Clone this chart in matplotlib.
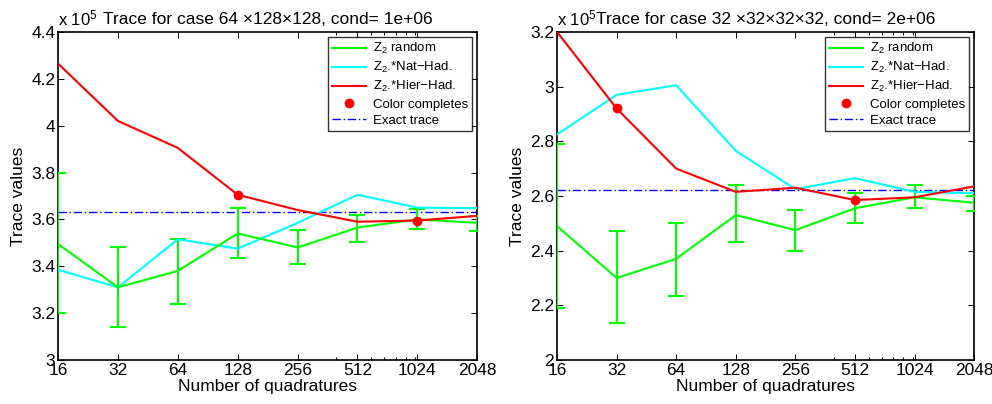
import numpy as np
import matplotlib
matplotlib.use("Agg")
from matplotlib import pyplot as plt
from matplotlib.ticker import FixedLocator, FuncFormatter, NullFormatter
from matplotlib.lines import Line2D

plt.rcParams['font.family'] = ['Liberation Sans', 'DejaVu Sans']
plt.rcParams['mathtext.fontset'] = 'custom'
plt.rcParams['mathtext.rm'] = 'Liberation Sans'
plt.rcParams['mathtext.it'] = 'Liberation Sans:italic'

# number of quadratures
quads = [16, 32, 64, 128, 256, 512, 1024, 2048]
xticklabels = ['16', '32', '64', '128', '256', '512', '1024', '2048']

# case 64 x 128 x 128 (values in units of 1e5)
a_rand = [3.495, 3.31, 3.38, 3.54, 3.48, 3.565, 3.60, 3.585]
a_rand_lo = [3.20, 3.14, 3.24, 3.435, 3.41, 3.505, 3.56, 3.55]
a_rand_hi = [3.80, 3.48, 3.515, 3.65, 3.555, 3.62, 3.645, 3.615]
a_nat = [3.385, 3.31, 3.515, 3.475, 3.585, 3.705, 3.65, 3.648]
a_hier = [4.265, 4.02, 3.905, 3.705, 3.64, 3.59, 3.595, 3.615]
a_color_q = [128, 1024]
a_color_v = [3.705, 3.595]
a_exact = 3.63

# case 32 x 32 x 32 x 32
b_rand = [2.49, 2.30, 2.37, 2.53, 2.475, 2.555, 2.595, 2.575]
b_rand_lo = [2.19, 2.135, 2.235, 2.43, 2.40, 2.50, 2.555, 2.545]
b_rand_hi = [2.79, 2.47, 2.50, 2.64, 2.55, 2.61, 2.64, 2.60]
b_nat = [2.825, 2.97, 3.005, 2.765, 2.625, 2.665, 2.615, 2.61]
b_hier = [3.2, 2.92, 2.70, 2.615, 2.63, 2.585, 2.595, 2.635]
b_color_q = [32, 512]
b_color_v = [2.92, 2.585]
b_exact = 2.622

minor_q = [400, 600, 700, 800, 900, 1000]

GREEN = (0, 1, 0)
CYAN = (0, 1, 1)
RED = (1, 0, 0)
BLUE = (0, 0, 1)


def DrawCase(ax, title, rand, lo, hi, nat, hier, cq, cv, exact, ylim, yticks):
    scale = 1e5
    rand = np.array(rand) * scale
    err = [rand - np.array(lo) * scale, np.array(hi) * scale - rand]
    ax.errorbar(quads, rand, yerr=err, color=GREEN, lw=1.5, capsize=6,
                capthick=1.5, zorder=3)
    ax.plot(quads, np.array(nat) * scale, color=CYAN, lw=1.5, zorder=3)
    ax.plot(quads, np.array(hier) * scale, color=RED, lw=1.5, zorder=4)
    ax.plot(cq, np.array(cv) * scale, 'o', color=RED, ms=6, zorder=5)
    ax.axhline(exact * scale, color=BLUE, lw=1, ls='-.',
               dashes=(6, 2, 1, 2), zorder=2)

    ax.set_xscale('log', base=2)
    ax.set_xlim(16, 2048)
    ax.xaxis.set_major_locator(FixedLocator(quads))
    ax.xaxis.set_minor_locator(FixedLocator(minor_q))
    ax.xaxis.set_minor_formatter(NullFormatter())
    ax.set_xticklabels(xticklabels)
    ax.set_ylim(ylim[0] * scale, ylim[1] * scale)
    ax.set_yticks(np.array(yticks) * scale)
    ax.yaxis.set_major_formatter(FuncFormatter(lambda v, p: '%g' % round(v / scale, 3)))
    ax.tick_params(which='both', direction='in', top=True, right=True,
                   labelsize=12.5, pad=2)
    ax.tick_params(which='major', length=4, width=0.7)
    ax.tick_params(which='minor', length=2, width=0.7)
    for s in ax.spines.values():
        s.set_linewidth(1.2)
    ax.set_xlabel('Number of quadratures', fontsize=12.5, labelpad=1)
    ax.set_ylabel('Trace values', fontsize=12.5, labelpad=4)
    ax.set_title(title, fontsize=12.5, pad=6)
    ax.text(0.0, 1.012, 'x 10$^5$', transform=ax.transAxes, fontsize=12,
            ha='left', va='bottom')

    handles = [
        Line2D([], [], color=GREEN, lw=1.5),
        Line2D([], [], color=CYAN, lw=1.5),
        Line2D([], [], color=RED, lw=1.5),
        Line2D([], [], color=RED, marker='o', ms=6, ls='none'),
        Line2D([], [], color=BLUE, lw=1, ls='-.', dashes=(6, 2, 1, 2)),
    ]
    labels = ['Z$_2$ random', 'Z$_2$.*Nat\u2212Had.', 'Z$_2$.*Hier\u2212Had.',
              'Color completes', 'Exact trace']
    leg = ax.legend(handles, labels, loc='upper right', fontsize=9.5,
                    frameon=True, fancybox=False, edgecolor='black',
                    handlelength=2.6, borderaxespad=0.4, labelspacing=0.3,
                    borderpad=0.3, handletextpad=0.5)
    leg.get_frame().set_linewidth(1.0)


fig = plt.figure(figsize=(9.92, 4.04), dpi=100)
ax1 = fig.add_axes([0.0585, 0.109, 0.4225, 0.812])
ax2 = fig.add_axes([0.5615, 0.109, 0.4205, 0.812])

DrawCase(ax1, 'Trace for case 64 \u00d7128\u00d7128, cond= 1e+06',
         a_rand, a_rand_lo, a_rand_hi, a_nat, a_hier, a_color_q, a_color_v,
         a_exact, (3.0, 4.4), [3.0, 3.2, 3.4, 3.6, 3.8, 4.0, 4.2, 4.4])
DrawCase(ax2, 'Trace for case 32 \u00d732\u00d732\u00d732, cond= 2e+06',
         b_rand, b_rand_lo, b_rand_hi, b_nat, b_hier, b_color_q, b_color_v,
         b_exact, (2.0, 3.2), [2.0, 2.2, 2.4, 2.6, 2.8, 3.0, 3.2])

fig.savefig('out.png', dpi=100)
